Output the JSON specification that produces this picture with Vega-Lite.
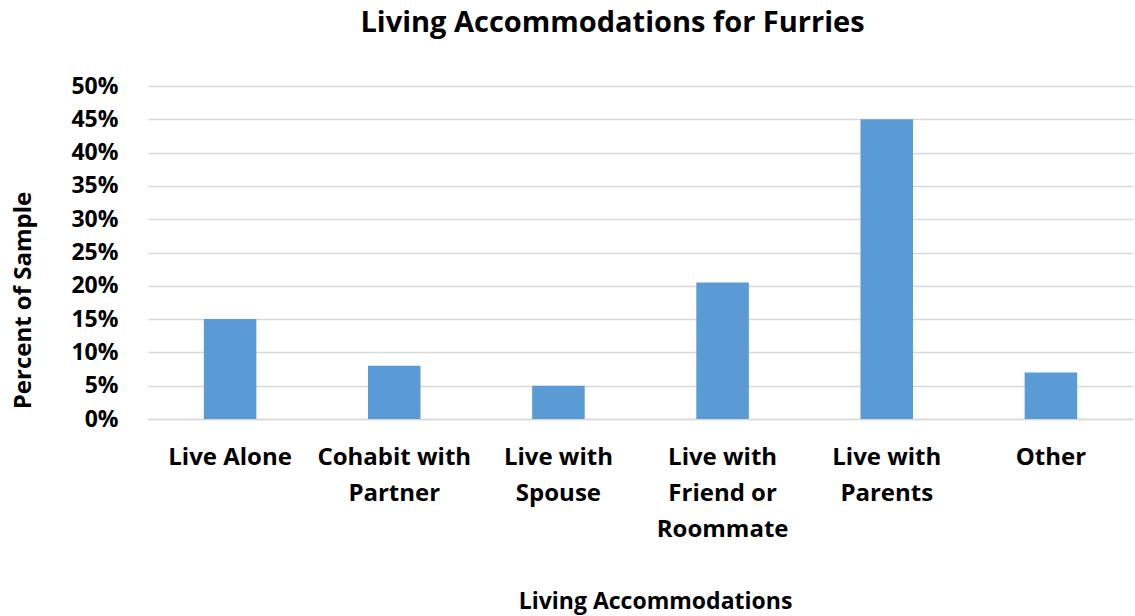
{
  "$schema": "https://vega.github.io/schema/vega-lite/v6.json",
  "width": 985,
  "height": 333,
  "autosize": "none",
  "padding": {"left": 148, "top": 86, "right": 2, "bottom": 197},
  "background": "white",
  "title": {
    "text": "Living Accommodations for Furries",
    "font": "Open Sans",
    "fontSize": 29,
    "fontWeight": "bold",
    "color": "#000000",
    "anchor": "middle",
    "frame": "group",
    "dx": -28,
    "offset": 37
  },
  "data": {
    "values": [
      {"category": "Live Alone", "percent": 0.15},
      {"category": "Cohabit with Partner", "percent": 0.08},
      {"category": "Live with Spouse", "percent": 0.05},
      {"category": "Live with Friend or Roommate", "percent": 0.205},
      {"category": "Live with Parents", "percent": 0.45},
      {"category": "Other", "percent": 0.07}
    ]
  },
  "mark": {"type": "bar", "color": "#5B9BD5"},
  "encoding": {
    "x": {
      "field": "category",
      "type": "nominal",
      "sort": null,
      "scale": {"paddingInner": 0.68, "paddingOuter": 0.34},
      "axis": {
        "title": "Living Accommodations",
        "titleFont": "Open Sans",
        "titleFontSize": 23,
        "titleFontWeight": "bold",
        "titleColor": "#000000",
        "titlePadding": 49,
        "titleX": 507,
        "labelFont": "Open Sans",
        "labelFontSize": 24,
        "labelFontWeight": "bold",
        "labelColor": "#000000",
        "labelAngle": 0,
        "labelPadding": 38,
        "labelLineHeight": 36,
        "labelBaseline": "middle",
        "labelExpr": "datum.value == 'Cohabit with Partner' ? ['Cohabit with', 'Partner'] : datum.value == 'Live with Spouse' ? ['Live with', 'Spouse'] : datum.value == 'Live with Friend or Roommate' ? ['Live with', 'Friend or', 'Roommate'] : datum.value == 'Live with Parents' ? ['Live with', 'Parents'] : datum.value",
        "domain": true,
        "domainColor": "#D9D9D9",
        "domainWidth": 1.5,
        "ticks": false,
        "grid": false
      }
    },
    "y": {
      "field": "percent",
      "type": "quantitative",
      "scale": {"domain": [0, 0.5]},
      "axis": {
        "title": "Percent of Sample",
        "titleFont": "Open Sans",
        "titleFontSize": 24,
        "titleFontWeight": "bold",
        "titleColor": "#000000",
        "titlePadding": 35,
        "titleY": 214,
        "format": ".0%",
        "values": [0, 0.05, 0.1, 0.15, 0.2, 0.25, 0.3, 0.35, 0.4, 0.45, 0.5],
        "labelFont": "Open Sans",
        "labelFontSize": 23,
        "labelFontWeight": "bold",
        "labelColor": "#000000",
        "labelPadding": 30,
        "domain": false,
        "ticks": false,
        "grid": true,
        "gridColor": "#D9D9D9",
        "gridWidth": 1.5
      }
    }
  },
  "config": {"view": {"stroke": null}}
}
